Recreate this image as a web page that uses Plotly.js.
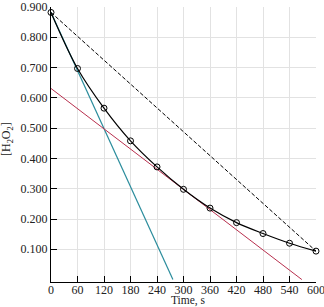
<!DOCTYPE html>
<html><head><meta charset="utf-8">
<script src="https://cdn.plot.ly/plotly-3.0.1.min.js"></script>
<style>html,body{margin:0;padding:0;background:#fff}#c{width:324px;height:307px}</style>
</head><body><div id="c"></div>
<script>
const times = [0, 60, 120, 180, 240, 300, 360, 420, 480, 540, 600];
const conc = [0.882, 0.697, 0.566, 0.458, 0.372, 0.298, 0.236, 0.188, 0.152, 0.120, 0.094];
const secantX = [0, 600];
const secantY = [0.882, 0.094];
const tan0X = [0, 276];
const tan0Y = [0.882, 0];
const tan300X = [0, 568];
const tan300Y = [0.631, 0];
const xTicks = [0, 60, 120, 180, 240, 300, 360, 420, 480, 540, 600];
const yTicks = [0.1, 0.2, 0.3, 0.4, 0.5, 0.6, 0.7, 0.8, 0.9];
const yTickText = yTicks.map(v => v.toFixed(3));
const xTitle = "Time, s";
const yTitle = "[H<sub>2</sub>O<sub>2</sub>]";

const font = {family: "Liberation Serif, Times New Roman, serif", size: 12, color: "#222"};
const titleFont = {family: "Liberation Serif, Times New Roman, serif", size: 11.5, color: "#222"};
const data = [
  {x: secantX, y: secantY, mode: "lines", line: {color: "#000", width: 1, dash: "4px,2px"}, hoverinfo: "none"},
  {x: tan0X, y: tan0Y, mode: "lines", line: {color: "#2a8c9c", width: 1.2}, hoverinfo: "none"},
  {x: tan300X, y: tan300Y, mode: "lines", line: {color: "#b8304e", width: 1}, hoverinfo: "none"},
  {x: times, y: conc, mode: "lines+markers", line: {color: "#000", width: 1.2, shape: "spline"},
   marker: {symbol: "circle-open", size: 6, color: "#000", line: {width: 1, color: "#000"}}, cliponaxis: false}
];
const layout = {
  width: 324, height: 307,
  margin: {l: 51, r: 8, t: 7, b: 25},
  showlegend: false,
  paper_bgcolor: "#fff", plot_bgcolor: "#fff",
  font: font,
  xaxis: {range: [0, 600], tickvals: xTicks, ticktext: xTicks.map(String), ticks: "inside", ticklen: 6,
    tickcolor: "#000", showline: true, linecolor: "#000", linewidth: 1.2, showgrid: true, gridcolor: "#e2e2e2",
    zeroline: false, tickfont: font, ticklabeloverflow: "allow", ticklabelstandoff: -4},
  yaxis: {range: [-0.008, 0.9], tickvals: yTicks, ticktext: yTickText, ticks: "inside", ticklen: 6,
    tickcolor: "#000", showline: true, linecolor: "#000", linewidth: 1.2, showgrid: true, gridcolor: "#e2e2e2",
    zeroline: false, tickfont: font, ticklabeloverflow: "allow"},
  annotations: [
    {text: xTitle, xref: "paper", yref: "paper", x: 0.52, y: 0, yshift: -18, xanchor: "center", yanchor: "middle",
     showarrow: false, font: titleFont},
    {text: yTitle, xref: "paper", yref: "paper", x: 0, xshift: -44, y: 0.52, xanchor: "center", yanchor: "middle",
     textangle: -90, showarrow: false, font: font}
  ]
};
Plotly.newPlot("c", data, layout, {staticPlot: true});
</script></body></html>
